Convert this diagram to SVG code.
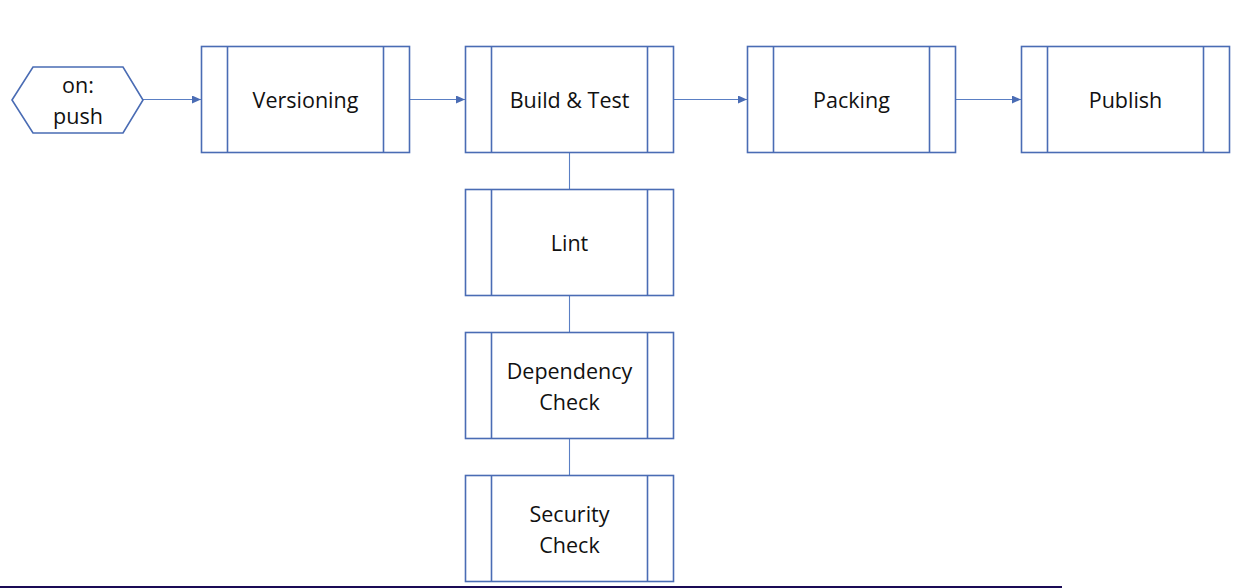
<svg xmlns="http://www.w3.org/2000/svg" width="1251" height="588" viewBox="0 0 1251 588">
<style>
.box{fill:#fff;stroke:#4a6cb4;stroke-width:1.6}
.inner{stroke:#4a6cb4;stroke-width:1.6}
.conn{stroke:#5a7fc4;stroke-width:1.1;fill:none}
text{font-family:"Open Sans","Liberation Sans",sans-serif;font-size:21.5px;fill:#111;text-anchor:middle}
</style>
<defs>
<marker id="arr" markerWidth="10" markerHeight="8" refX="9" refY="4" orient="auto" markerUnits="userSpaceOnUse">
<path d="M0,0 L9,4 L0,8 Z" fill="#4a6cb4"/>
</marker>
<g id="proc">
<rect class="box" x="0" y="0" width="208" height="106"/>
<line class="inner" x1="26" y1="0" x2="26" y2="106"/>
<line class="inner" x1="182" y1="0" x2="182" y2="106"/>
</g>
</defs>
<rect width="1251" height="588" fill="#fff"/>
<g id="connectors">
<line class="conn" x1="143" y1="99.5" x2="201" y2="99.5" marker-end="url(#arr)"/>
<line class="conn" x1="410" y1="99.5" x2="465" y2="99.5" marker-end="url(#arr)"/>
<line class="conn" x1="674" y1="99.5" x2="747" y2="99.5" marker-end="url(#arr)"/>
<line class="conn" x1="956" y1="99.5" x2="1021" y2="99.5" marker-end="url(#arr)"/>
<line class="conn" x1="569.5" y1="153" x2="569.5" y2="189"/>
<line class="conn" x1="569.5" y1="296" x2="569.5" y2="332"/>
<line class="conn" x1="569.5" y1="439" x2="569.5" y2="475"/>
</g>
<g id="onpush">
<polygon class="box" points="12,100 33,67 123,67 143,100 123,133 33,133"/>
<text x="78" y="93">on:</text>
<text x="78" y="124">push</text>
</g>
<g id="versioning">
<use href="#proc" x="201.5" y="46.5"/>
<text x="305.5" y="108">Versioning</text>
</g>
<g id="build">
<use href="#proc" x="465.5" y="46.5"/>
<text x="569.5" y="108">Build &amp; Test</text>
</g>
<g id="packing">
<use href="#proc" x="747.5" y="46.5"/>
<text x="851.5" y="108">Packing</text>
</g>
<g id="publish">
<use href="#proc" x="1021.5" y="46.5"/>
<text x="1125.5" y="108">Publish</text>
</g>
<g id="lint">
<use href="#proc" x="465.5" y="189.5"/>
<text x="569.5" y="251">Lint</text>
</g>
<g id="dependency">
<use href="#proc" x="465.5" y="332.5"/>
<text x="569.5" y="379">Dependency</text>
<text x="569.5" y="410">Check</text>
</g>
<g id="security">
<use href="#proc" x="465.5" y="475.5"/>
<text x="569.5" y="522">Security</text>
<text x="569.5" y="553">Check</text>
</g>
<line x1="0" y1="587" x2="1062" y2="587" stroke="#1a0b55" stroke-width="2"/>
</svg>
